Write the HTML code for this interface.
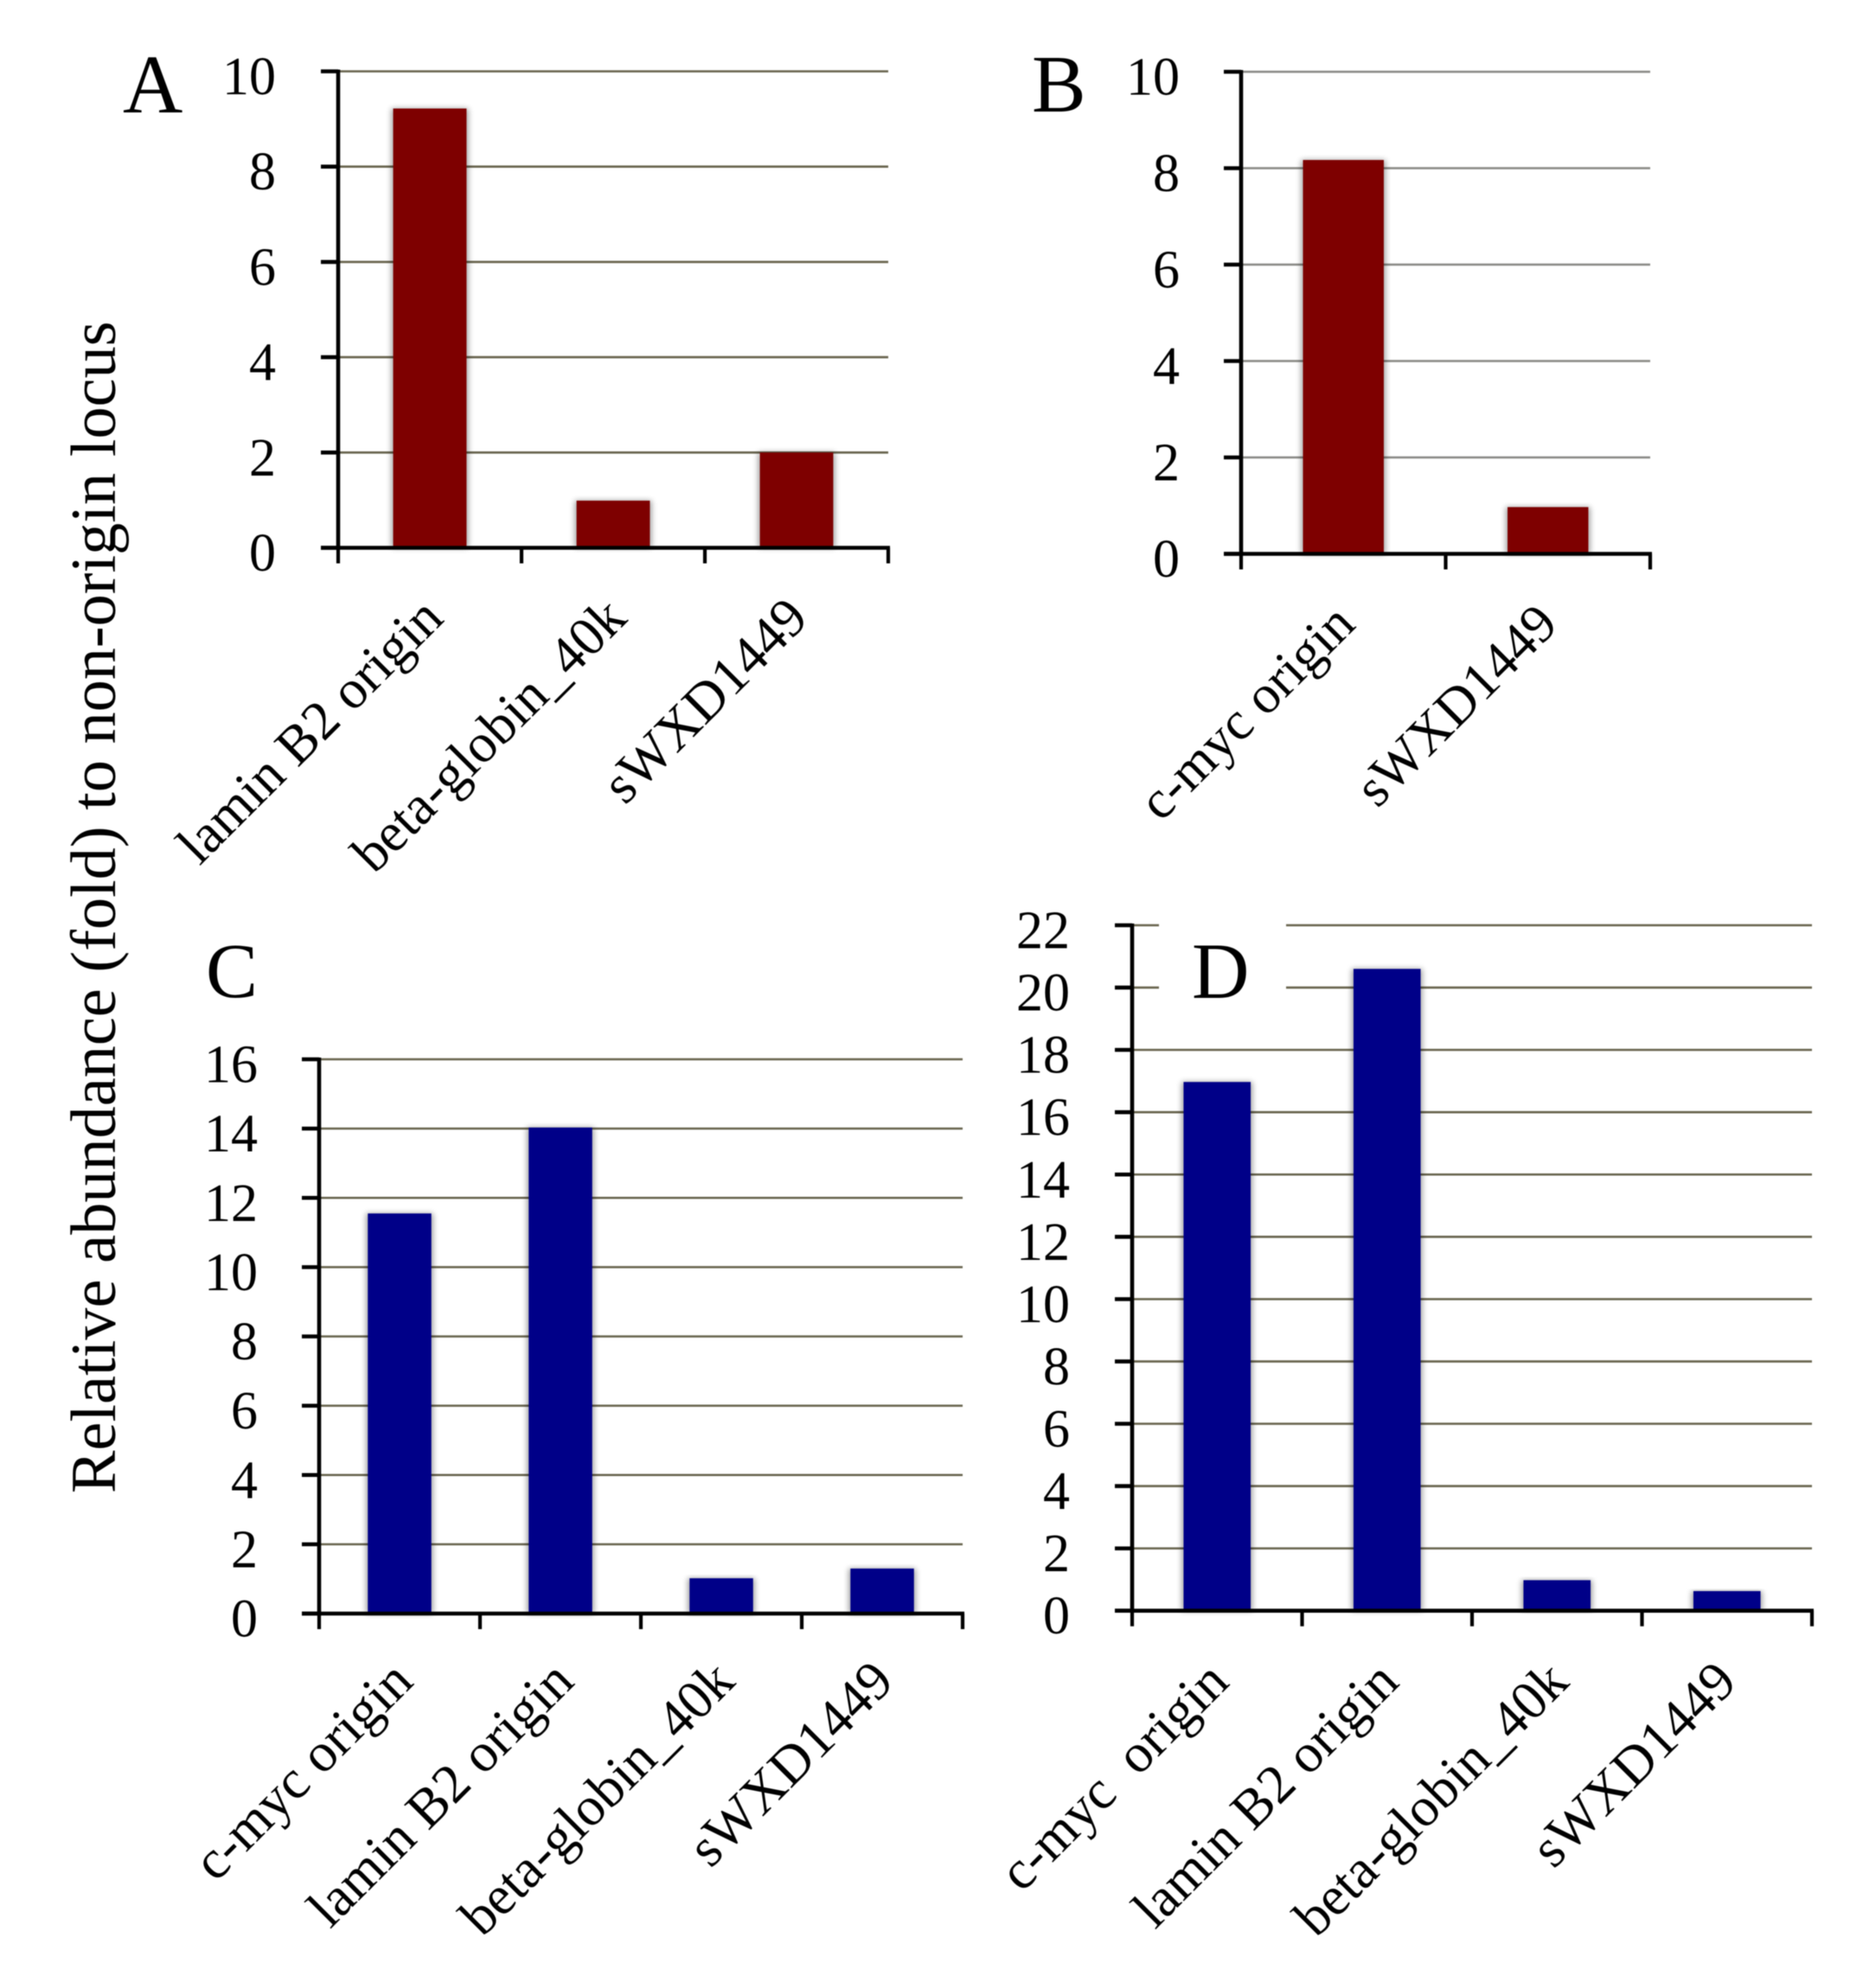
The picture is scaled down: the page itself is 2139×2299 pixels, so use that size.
<!DOCTYPE html>
<html lang="en">
<head>
<meta charset="utf-8">
<title>Relative abundance bar charts</title>
<style>
html,body{margin:0;padding:0;background:#fff;width:2139px;height:2299px;overflow:hidden}
svg{display:block;filter:blur(0.6px)}
text{font-family:"Liberation Serif",serif;fill:#000}
</style>
</head>
<body>
<svg id="figure" xmlns="http://www.w3.org/2000/svg" width="2139" height="2299" viewBox="0 0 2139 2299">
  <defs>
    <filter id="soft" x="-30%" y="-10%" width="160%" height="120%"><feGaussianBlur stdDeviation="3.5"/></filter>
  </defs>
  <rect x="0" y="0" width="2139" height="2299" fill="#ffffff"/>
  <text transform="translate(133 1727) rotate(-90)" font-size="74.3">Relative abundance (fold) to non-origin locus</text>
</svg>
<script>
const categoriesA = ["lamin B2 origin", "beta-globin_40k", "sWXD1449"];
const valuesA = [9.22, 0.99, 2.0];
const tickLabelsA = [0, 2, 4, 6, 8, 10];

const categoriesB = ["c-myc origin", "sWXD1449"];
const valuesB = [8.17, 0.97];
const tickLabelsB = [0, 2, 4, 6, 8, 10];

const categoriesC = ["c-myc origin", "lamin B2 origin", "beta-globin_40k", "sWXD1449"];
const valuesC = [11.55, 14.03, 1.02, 1.3];
const tickLabelsC = [0, 2, 4, 6, 8, 10, 12, 14, 16];

const categoriesD = ["c-myc  origin", "lamin B2 origin", "beta-globin_40k", "sWXD1449"];
const valuesD = [16.97, 20.6, 0.98, 0.63];
const tickLabelsD = [0, 2, 4, 6, 8, 10, 12, 14, 16, 18, 20, 22];

const NS = "http://www.w3.org/2000/svg";
const svg = document.getElementById("figure");

function make(tag, attrs, parent) {
  const node = document.createElementNS(NS, tag);
  for (const key in attrs) node.setAttribute(key, attrs[key]);
  parent.appendChild(node);
  return node;
}

function drawPanel(p) {
  const group = make("g", {}, svg);
  
  

  const maxTick = p.ticks[p.ticks.length - 1];
  const yScale = v => p.y0 - (v / maxTick) * (p.y0 - p.yTop);
  const band = (p.xRight - p.xLeft) / p.categories.length;
  const xCenter = i => p.xLeft + band * (i + 0.5);

  p.ticks.forEach(t => {
    if (t === 0) return;
    const grid = make("line", {x1: p.xLeft, x2: p.xRight, y1: yScale(t), y2: yScale(t), stroke: p.gridColor, "stroke-width": 2.6}, group);
    
    
  });

  if (p.mask) {
    const mask = make("rect", {x: p.mask[0], y: p.mask[1], width: p.mask[2], height: p.mask[3], fill: "#ffffff"}, group);
    
    
  }

  p.values.forEach((v, i) => {
    const w = band * p.barFrac;
    const x = xCenter(i) - w / 2;
    const top = yScale(v);
    const shadow = make("rect", {x: x - 2, y: top, width: w + 4, height: p.y0 - top, fill: "#000000", opacity: 0.38, filter: "url(#soft)"}, group);
    
    
    const bar = make("rect", {x: x, y: top, width: w, height: p.y0 - top, fill: p.barColor}, group);
    
    
  });

  const yAxis = make("line", {x1: p.xLeft, x2: p.xLeft, y1: p.yTop - 2, y2: p.y0 + 2, stroke: "#000", "stroke-width": 4.6}, group);
  
  
  const xAxis = make("line", {x1: p.xLeft - 20, x2: p.xRight + 2, y1: p.y0, y2: p.y0, stroke: "#000", "stroke-width": 4.6}, group);
  
  

  p.ticks.forEach(t => {
    const mark = make("line", {x1: p.xLeft - 20, x2: p.xLeft, y1: yScale(t), y2: yScale(t), stroke: "#000", "stroke-width": 4.6}, group);
    
    
    const label = make("text", {x: p.labelRight, y: yScale(t) + 26.5, "font-size": 62, "text-anchor": "end"}, group);
    
    
    label.textContent = String(t);
  });

  for (let i = 0; i <= p.categories.length; i++) {
    const x = p.xLeft + band * i;
    const mark = make("line", {x1: x, x2: x, y1: p.y0, y2: p.y0 + 18, stroke: "#000", "stroke-width": 4.2}, group);
    
    
  }

  p.categories.forEach((c, i) => {
    const ax = xCenter(i) + p.labelDx - (c === "sWXD1449" ? 2 : 0);
    const ay = p.y0 + p.labelDy;
    const label = make("text", {"font-size": p.labelSize, "text-anchor": "end", transform: "translate(" + ax + " " + ay + ") rotate(-45)"}, group);
    
    
    label.setAttribute('xml:space', 'preserve');
    label.style.whiteSpace = 'pre';
    label.textContent = c;
  });

  const letter = make("text", {x: p.letter[0], y: p.letter[1], "font-size": p.letter[2]}, group);
  
  
  letter.textContent = p.id.toUpperCase();
}

drawPanel({id: "a", categories: categoriesA, values: valuesA, ticks: tickLabelsA,
  xLeft: 391, xRight: 1027, y0: 633.5, yTop: 82.5, barFrac: 0.4, barColor: "#7e0000", gridColor: "#69654f",
  labelRight: 319, labelDx: 18, labelDy: 84, labelSize: 63.5, letter: [142, 130, 96]});

drawPanel({id: "b", categories: categoriesB, values: valuesB, ticks: tickLabelsB,
  xLeft: 1435, xRight: 1908, y0: 640.5, yTop: 83, barFrac: 0.395, barColor: "#7e0000", gridColor: "#8a8a86",
  labelRight: 1364, labelDx: 16, labelDy: 84, labelSize: 62.5, letter: [1193, 129, 94]});

drawPanel({id: "c", categories: categoriesC, values: valuesC, ticks: tickLabelsC,
  xLeft: 369, xRight: 1113, y0: 1866, yTop: 1225, barFrac: 0.395, barColor: "#000088", gridColor: "#69654f",
  labelRight: 298, labelDx: 18, labelDy: 81, labelSize: 63.5, letter: [238, 1153, 90]});

drawPanel({id: "d", categories: categoriesD, values: valuesD, ticks: tickLabelsD,
  xLeft: 1309, xRight: 2095, y0: 1862.7, yTop: 1070, barFrac: 0.395, barColor: "#000088", gridColor: "#69654f",
  mask: [1340, 1060, 147, 95], labelRight: 1237, labelDx: 16, labelDy: 85, labelSize: 63.5, letter: [1378, 1154, 92]});
</script>
</body>
</html>
